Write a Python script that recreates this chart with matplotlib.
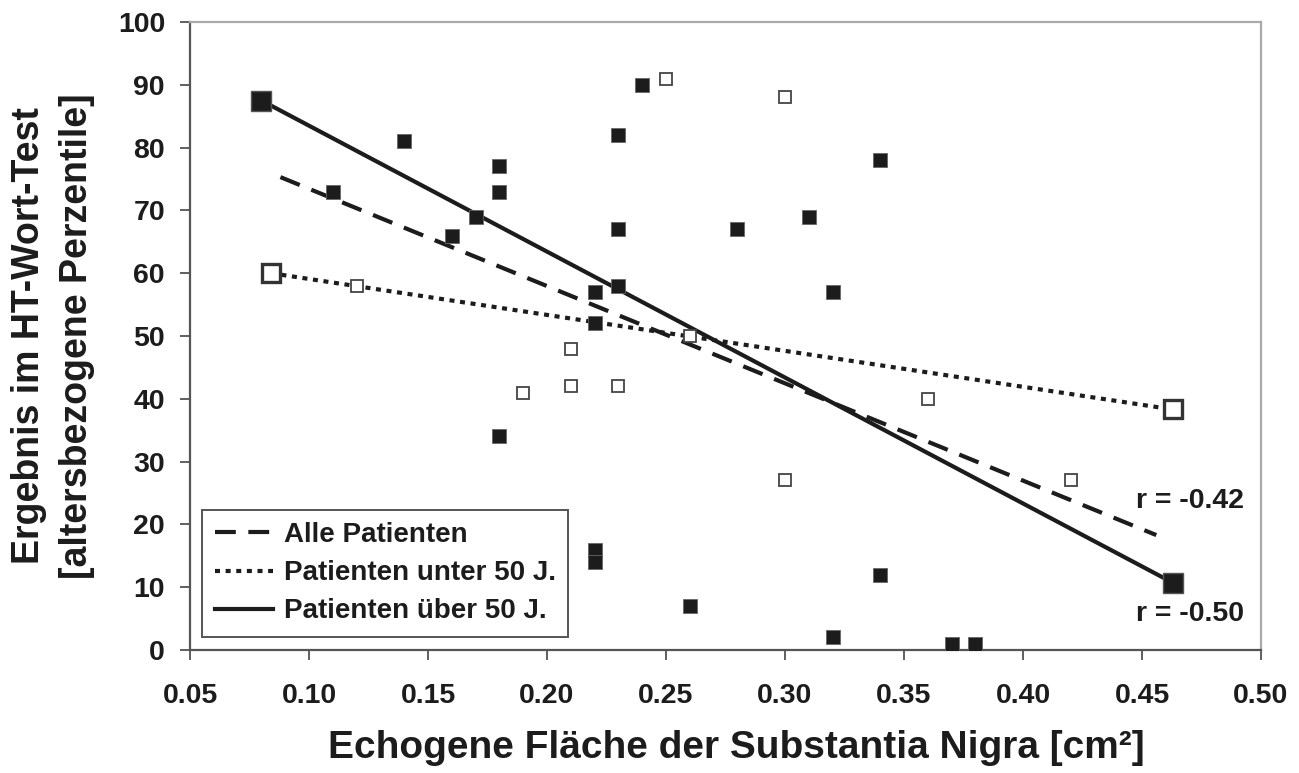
#!/usr/bin/env python3

import matplotlib
import matplotlib.pyplot as plt

matplotlib.use("Agg")

plt.rcParams["font.family"] = ["Liberation Sans", "DejaVu Sans"]
plt.rcParams["font.weight"] = "bold"

# Patienten über 50 J. (gefüllte Quadrate)
over50_x = [0.11, 0.14, 0.16, 0.17, 0.18, 0.18, 0.18, 0.22, 0.22, 0.22, 0.22,
            0.23, 0.23, 0.23, 0.24, 0.26, 0.28, 0.31, 0.32, 0.32, 0.34, 0.34,
            0.37, 0.38]
over50_y = [73, 81, 66, 69, 77, 73, 34, 57, 52, 16, 14,
            82, 67, 58, 90, 7, 67, 69, 57, 2, 78, 12,
            1, 1]

# Patienten unter 50 J. (offene Quadrate)
under50_x = [0.12, 0.19, 0.21, 0.21, 0.23, 0.25, 0.26, 0.30, 0.30, 0.36, 0.42]
under50_y = [58, 41, 48, 42, 42, 91, 50, 88, 27, 40, 27]

# Regressionsgeraden (Endpunkte)
fit_all_x = [0.088, 0.456]
fit_all_y = [75.3, 18.3]
fit_under_x = [0.084, 0.463]
fit_under_y = [60.0, 38.3]
fit_over_x = [0.080, 0.463]
fit_over_y = [87.5, 10.7]

r_labels = ["r = -0.42", "r = -0.50"]
r_pos_y = [23.8, 5.8]

x_ticks = [0.05, 0.10, 0.15, 0.20, 0.25, 0.30, 0.35, 0.40, 0.45, 0.50]
y_ticks = [0, 10, 20, 30, 40, 50, 60, 70, 80, 90, 100]

ink = "#1c1c1c"

fig = plt.figure(figsize=(12.99, 7.73), dpi=100)
ax = fig.add_axes([190 / 1299, 1 - 650 / 773, (1261 - 190) / 1299, (650 - 22) / 773])

# regression lines
l_all, = ax.plot(fit_all_x, fit_all_y, color=ink, lw=3.0, dashes=(5, 3.0),
                 solid_capstyle="butt", label="Alle Patienten", zorder=3)
l_under, = ax.plot(fit_under_x, fit_under_y, color=ink, lw=3.0, dashes=(1.2, 1.35),
                   label="Patienten unter 50 J.", zorder=3)
l_over, = ax.plot(fit_over_x, fit_over_y, color=ink, lw=3.0,
                  label="Patienten über 50 J.", zorder=3)

# endpoints
ax.plot(fit_over_x, fit_over_y, ls="none", marker="s", ms=14.5, mfc=ink,
        mec="#555555", mew=1.0, zorder=5)
ax.plot(fit_under_x, fit_under_y, ls="none", marker="s", ms=13, mfc="white",
        mec="#333333", mew=2.4, zorder=5)

# data points
ax.plot(over50_x, over50_y, ls="none", marker="s", ms=9.5, mfc=ink,
        mec="#666666", mew=0.6, zorder=4)
ax.plot(under50_x, under50_y, ls="none", marker="s", ms=9, mfc="white",
        mec="#444444", mew=1.3, zorder=4)

for lab, yy in zip(r_labels, r_pos_y):
    ax.text(0.4475, yy, lab, fontsize=20.5, fontweight="bold", color=ink,
            va="center", ha="left")

ax.set_xlim(0.05, 0.50)
ax.set_ylim(0, 100)
ax.set_xticks(x_ticks)
ax.set_xticklabels([f"{v:.2f}" for v in x_ticks])
ax.set_yticks(y_ticks)
ax.tick_params(axis="both", direction="out", length=7, width=1.2,
               color="#444444", labelsize=20.5, labelcolor=ink)
ax.tick_params(axis="x", pad=17)
ax.tick_params(axis="y", pad=11)

for side in ["left", "bottom"]:
    ax.spines[side].set_color("#555555")
    ax.spines[side].set_linewidth(1.6)
for side in ["top", "right"]:
    ax.spines[side].set_color("#aaaaaa")
    ax.spines[side].set_linewidth(1.6)

leg = ax.legend(handles=[l_all, l_under, l_over], loc="lower left",
                bbox_to_anchor=(202 / 1299, 1 - 637 / 773),
                bbox_transform=fig.transFigure, fancybox=False,
                framealpha=1, edgecolor="#555555", fontsize=20,
                handlelength=2.1, handletextpad=0.4, borderpad=0.45,
                labelspacing=0.44, borderaxespad=0)
leg.get_frame().set_linewidth(1.4)
for t in leg.get_texts():
    t.set_color(ink)

fig.text(736 / 1299, 1 - 758 / 773, "Echogene Fläche der Substantia Nigra [cm²]",
         fontsize=28, fontweight="bold", color=ink, ha="center", va="baseline")
fig.text(29 / 1299, 1 - 336 / 773, "Ergebnis im HT-Wort-Test",
         fontsize=27, fontweight="bold", color=ink, ha="center", va="center",
         rotation=90)
fig.text(77 / 1299, 1 - 336 / 773, "[altersbezogene Perzentile]",
         fontsize=27, fontweight="bold", color=ink, ha="center", va="center",
         rotation=90)

fig.savefig("out.png", dpi=100)
